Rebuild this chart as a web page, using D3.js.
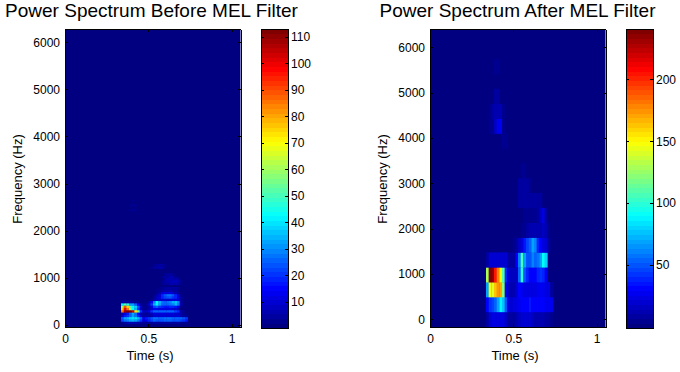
<!DOCTYPE html>
<html lang='en'>
<head>
  <meta charset='UTF-8'>
  <title>Power Spectrum</title>
  <style>
    * { margin: 0; padding: 0; }
    body { background: #fff; overflow: hidden; }
    text { font-family: 'Liberation Sans', Arial, sans-serif; fill: #000; }
    .tick text { font-size: 12px; }
  </style>
</head>
<body>
<div id='chart'></div>
<script src='https://cdn.jsdelivr.net/npm/d3@7'></script>
<script>
  // time of the first analysis frame and frame step (s)
  const frameStart = 0.336
  const frameStep = 0.016

  // before MEL: FFT bin centres (Hz) and power per frame, frames past the row end are 0
  const binStepBefore = 48.8
  const binsBefore = [1, 2, 3, 4, 5, 6, 7, 8, 9, 10, 11, 12, 13, 14, 15, 16, 18, 19, 20, 21, 22, 25, 26, 50, 52, 54, 58]
  const powerBefore = [
    [3, 5, 6, 6, 6, 6, 5, 4, 3, 3, 3, 4, 4, 4, 4, 4, 4, 4, 4, 4, 4, 4, 3, 3, 2],
    [22, 28, 30, 32, 34, 32, 28, 20, 12, 14, 18, 22, 25, 24, 24, 24, 25, 25, 25, 24, 24, 24, 22, 20, 16],
    [24, 32, 34, 38, 40, 40, 34, 26, 14, 16, 20, 24, 28, 28, 26, 26, 28, 28, 28, 26, 26, 26, 26, 24, 20],
    [10, 16, 20, 26, 32, 28, 18, 10, 4, 4, 5, 7, 9, 9, 9, 9, 10, 10, 10, 9, 9, 9, 7, 5, 3],
    [6, 12, 16, 26, 34, 28, 15, 7, 4, 3, 4, 8, 12, 12, 12, 12, 12, 12, 12, 12, 10, 9, 6, 3, 1],
    [85, 108, 113, 113, 104, 74, 52, 20, 8, 8, 12, 20, 25, 26, 26, 26, 26, 26, 26, 25, 22, 18, 6, 2, 1],
    [75, 100, 85, 58, 44, 34, 20, 8, 3, 3, 4, 10, 14, 14, 12, 12, 12, 12, 12, 10, 10, 6, 1],
    [62, 90, 75, 52, 44, 38, 24, 9, 3, 3, 5, 12, 22, 26, 20, 18, 16, 16, 18, 18, 16, 12, 2],
    [42, 52, 46, 32, 32, 26, 15, 5, 2, 2, 8, 20, 34, 42, 32, 26, 26, 26, 28, 30, 34, 28, 6],
    [4, 5, 5, 4, 4, 3, 2, 1, 1, 1, 5, 15, 30, 44, 34, 28, 26, 28, 30, 34, 36, 30, 5],
    [0, 0, 0, 0, 0, 0, 0, 0, 0, 0, 1, 3, 6, 8, 10, 10, 10, 10, 10, 12, 12, 10, 4],
    [0, 0, 0, 0, 0, 0, 0, 0, 0, 0, 0, 1, 4, 8, 12, 18, 22, 24, 24, 20, 18, 12, 4],
    [0, 0, 0, 0, 0, 0, 0, 0, 0, 0, 0, 0, 3, 6, 10, 18, 24, 28, 28, 24, 18, 10, 2],
    [0, 0, 0, 0, 0, 0, 0, 0, 0, 0, 0, 0, 1, 3, 6, 10, 12, 12, 12, 10, 6, 2],
    [0, 0, 0, 0, 0, 0, 0, 0, 0, 0, 0, 0, 0, 2, 3, 5, 6, 6, 6, 5, 4, 2],
    [0, 0, 0, 0, 0, 0, 0, 0, 0, 0, 0, 0, 0, 0, 2, 3, 4, 4, 4, 4, 4, 3, 1],
    [0, 0, 0, 0, 0, 0, 0, 0, 0, 0, 0, 0, 0, 0, 0, 3, 4, 5, 6, 6, 7, 5, 2],
    [0, 0, 0, 0, 0, 0, 0, 0, 0, 0, 0, 0, 0, 0, 0, 3, 5, 6, 7, 8, 8, 6, 2],
    [0, 0, 0, 0, 0, 0, 0, 0, 0, 0, 0, 0, 0, 0, 0, 0, 4, 6, 7, 7, 6, 4],
    [0, 0, 0, 0, 0, 0, 0, 0, 0, 0, 0, 0, 0, 0, 0, 2, 4, 5, 6, 6, 3],
    [0, 0, 0, 0, 0, 0, 0, 0, 0, 0, 0, 0, 0, 0, 0, 1, 3, 4, 4, 3],
    [0, 0, 0, 0, 0, 0, 0, 0, 0, 0, 0, 2, 4, 5, 6, 5, 3, 1],
    [0, 0, 0, 0, 0, 0, 0, 0, 0, 0, 0, 1, 3, 5, 5, 4, 2],
    [0, 0, 1, 2, 3, 2, 1],
    [0, 0, 1, 2, 2, 3, 1],
    [0, 0, 0, 1, 2, 1],
    [0, 0, 0, 1, 1, 1]
  ]

  // after MEL: band centres go up by one step per row, from 0 Hz
  const binStepAfter = 328
  const binsAfter = [0, 1, 2, 3, 4, 5, 6, 7, 8, 9, 10, 11, 12, 13, 14, 15, 17]
  const powerAfter = [
    [8, 18, 22, 24, 24, 24, 22, 16, 8, 8, 9, 12, 15, 18, 18, 20, 18, 16, 14, 14, 14, 12, 10, 8, 3],
    [30, 42, 48, 55, 68, 88, 75, 50, 22, 20, 22, 22, 28, 32, 32, 32, 35, 32, 30, 30, 32, 30, 28, 28, 26],
    [70, 150, 140, 165, 175, 170, 120, 28, 15, 14, 14, 18, 30, 28, 22, 22, 22, 22, 24, 28, 26, 26, 24, 22, 10],
    [130, 240, 235, 205, 180, 150, 110, 40, 20, 15, 15, 15, 55, 100, 50, 40, 32, 30, 32, 38, 42, 40, 28],
    [8, 18, 20, 20, 18, 18, 18, 18, 10, 8, 10, 30, 60, 105, 70, 50, 50, 60, 55, 58, 70, 90, 80],
    [0, 0, 0, 0, 0, 0, 0, 0, 0, 0, 4, 8, 15, 25, 35, 45, 55, 70, 60, 40, 30, 22, 18, 8],
    [0, 0, 0, 0, 0, 0, 0, 0, 0, 0, 0, 0, 2, 4, 5, 8, 12, 14, 14, 12, 12, 15, 12, 6],
    [0, 0, 0, 0, 0, 0, 0, 0, 0, 0, 0, 0, 0, 2, 3, 3, 4, 4, 6, 10, 15, 22, 8],
    [0, 0, 0, 0, 0, 0, 0, 0, 0, 0, 0, 0, 8, 10, 10, 10, 10, 10, 10, 10, 8],
    [0, 0, 0, 0, 0, 0, 0, 0, 0, 0, 0, 0, 8, 10, 9, 7, 3],
    [0, 0, 0, 0, 0, 0, 0, 0, 0, 0, 0, 0, 0, 4, 3],
    [0, 0, 0, 0, 0, 0, 0, 0, 0, 0, 0, 0, 0, 0, 2],
    [0, 0, 0, 0, 0, 0, 4, 3],
    [0, 3, 5, 15, 28, 28, 6],
    [0, 5, 8, 12, 12, 12, 3],
    [0, 0, 2, 8, 8, 2],
    [0, 0, 0, 4, 4]
  ]

  const xTicks = [0, 0.5, 1]
  const yTicks = [0, 1000, 2000, 3000, 4000, 5000, 6000]
  const barTicksBefore = [10, 20, 30, 40, 50, 60, 70, 80, 90, 100, 110]
  const barTicksAfter = [50, 100, 150, 200]

  let width = 680
  let height = 372

  let svg = d3.select('#chart')
  .append('svg')
  .attr('xmlns', 'http://www.w3.org/2000/svg')
  .attr('width', width)
  .attr('height', height)

  // the reference image was resampled, so soften the cells a little
  let defs = svg.append('defs')
  defs.append('filter').attr('id', 'softBefore')
  .attr('x', '-5%').attr('y', '-5%').attr('width', '110%').attr('height', '110%')
  .append('feGaussianBlur').attr('stdDeviation', '0.6 0.4')
  defs.append('filter').attr('id', 'softAfter')
  .attr('x', '-5%').attr('y', '-5%').attr('width', '110%').attr('height', '110%')
  .append('feGaussianBlur').attr('stdDeviation', '0.6 0.2')

  // jet colormap, 64 steps like the original figure
  function jet (t) {
    let s = Math.min(63, Math.max(0, Math.floor(t * 64))) / 63
    let ramp = v => Math.round(255 * Math.max(0, Math.min(1, 1.5 - Math.abs(4 * s - v))))
    return d3.rgb(ramp(3), ramp(2), ramp(1)) + ''
  }

  function drawPanel (p) {
    let plot = svg.append('g')
    let x = d3.scaleLinear().domain([0, 1.053]).range([p.left, p.left + 175.5])
    let y = d3.scaleLinear().domain(p.freqDomain).range([327, 29])
    let level = d3.scaleLinear().domain(p.barDomain).range([0, 1])
    let clipId = 'clip' + p.left

    svg.append('clipPath').attr('id', clipId)
    .append('rect')
    .attr('x', p.left).attr('y', 29).attr('width', 175.5).attr('height', 298)

    // heat map
    plot.append('rect')
    .attr('x', p.left).attr('y', 29).attr('width', 175.5).attr('height', 298)
    .attr('fill', jet(level(0)))
    let cells = []
    p.bins.forEach((bin, r) => {
      p.power[r].forEach((v, c) => {
        if (v > 0) cells.push({bin, c, v})
      })
    })
    plot.append('g')
    .attr('clip-path', 'url(#' + clipId + ')')
    .append('g')
    .attr('filter', 'url(#' + p.soft + ')')
    .selectAll('rect')
    .data(cells)
    .join('rect')
    .attr('x', d => x(frameStart + d.c * frameStep))
    .attr('width', x(frameStep) - x(0) + 0.3)
    .attr('y', d => y((d.bin + 0.5) * p.binStep))
    .attr('height', y(0) - y(p.binStep) + 0.3)
    .attr('fill', d => jet(level(d.v)))

    // axes, box on with ticks inside
    let axes = [
      [d3.axisBottom(x).tickValues(xTicks).tickFormat(d3.format('')), 0, 327, true],
      [d3.axisTop(x).tickValues(xTicks), 0, 29, false],
      [d3.axisLeft(y).tickValues(yTicks).tickFormat(d3.format('d')), p.left, 0, true],
      [d3.axisRight(y).tickValues(yTicks), p.left + 175.5, 0, false]
    ]
    axes.forEach(([axis, tx, ty, labels], i) => {
      let g = svg.append('g')
      .attr('transform', 'translate(' + tx + ',' + ty + ')')
      .call(axis.tickSizeInner(-3).tickSizeOuter(0).tickPadding(i < 2 ? 7 : 5))
      if (!labels) g.selectAll('text').remove()
      g.selectAll('line,path').attr('stroke', '#000').attr('shape-rendering', 'crispEdges')
    })

    // colorbar
    let barY = d3.scaleLinear().domain(p.barDomain).range([328, 29])
    let levels = d3.range(64)
    svg.append('g')
    .attr('shape-rendering', 'crispEdges')
    .selectAll('rect')
    .data(levels)
    .join('rect')
    .attr('x', p.barLeft)
    .attr('width', 27)
    .attr('y', d => 328 - (d + 1) * 299 / 64)
    .attr('height', 299 / 64 + 0.5)
    .attr('fill', d => jet((d + 0.5) / 64))
    svg.append('g')
    .attr('transform', 'translate(' + (p.barLeft + 27) + ',0)')
    .call(d3.axisRight(barY).tickValues(p.barTicks).tickSizeInner(-3).tickSizeOuter(0).tickPadding(3))
    .selectAll('line,path').attr('stroke', '#000').attr('shape-rendering', 'crispEdges')
    svg.append('g')
    .attr('transform', 'translate(' + p.barLeft + ',0)')
    .call(d3.axisLeft(barY).tickValues(p.barTicks).tickFormat('').tickSizeInner(-3).tickSizeOuter(0))
    .selectAll('line,path').attr('stroke', '#000').attr('shape-rendering', 'crispEdges')
    svg.append('rect')
    .attr('x', p.barLeft).attr('y', 29).attr('width', 27).attr('height', 299)
    .attr('fill', 'none').attr('stroke', '#000').attr('shape-rendering', 'crispEdges')

    // labels
    svg.append('text')
    .attr('x', p.titleX).attr('y', 17)
    .attr('text-anchor', 'middle')
    .style('font-size', '19px')
    .text(p.title)
    svg.append('text')
    .attr('x', p.left + 85).attr('y', 360)
    .attr('text-anchor', 'middle')
    .style('font-size', '13px')
    .text('Time (s)')
    svg.append('text')
    .attr('transform', 'translate(' + (p.left - 43) + ',179) rotate(-90)')
    .attr('text-anchor', 'middle')
    .style('font-size', '13px')
    .text('Frequency (Hz)')
  }

  drawPanel({
    left: 65, barLeft: 261, titleX: 151.5, soft: 'softBefore',
    title: 'Power Spectrum Before MEL Filter',
    freqDomain: [-45, 6280], barDomain: [0.1, 113],
    bins: binsBefore, power: powerBefore, binStep: binStepBefore, barTicks: barTicksBefore
  })
  drawPanel({
    left: 430, barLeft: 626, titleX: 517.5, soft: 'softAfter',
    title: 'Power Spectrum After MEL Filter',
    freqDomain: [-170, 6405], barDomain: [-0.9, 240.6],
    bins: binsAfter, power: powerAfter, binStep: binStepAfter, barTicks: barTicksAfter
  })
</script>
</body>
</html>
